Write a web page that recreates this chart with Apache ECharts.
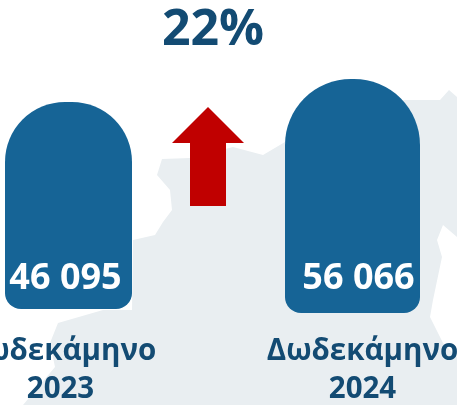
<!DOCTYPE html>
<html>
<head>
    <meta charset="utf-8">
    <title>Δωδεκάμηνο</title>
    <script src="https://cdn.jsdelivr.net/npm/echarts@6/dist/echarts.min.js"></script>
    <style>
        html, body {margin:0;padding:0;background:#fff;}
        #main {width:457px;height:405px;}
    </style>
</head>
<body>
<div id="main"></div>
<script>
    const categories = ['Δωδεκάμηνο\n2023', 'Δωδεκάμηνο\n2024']
    const values = [46095, 56066]
    const changeLabel = '22%'

    const blue = '#166496'
    const navy = '#134b73'
    const fontFamily = '"Open Sans", "Noto Sans", sans-serif'

    // faint map outline behind the bars
    const mapShape = [[162,159],[157,175],[170,190],[172,210],[163,222],[155,235],[133,240],[132,310],
        [103,310],[58,323],[50,343],[55,367],[23,405],[457,405],[457,357],[443,343],[430,317],[433,300],[442,257],[437,240],[443,225],[457,237],
        [457,97],[449,90],[440,100],[400,100],[350,110],[285,142],[263,155],[233,147],[190,158]]
    const arrowShape = [[208,107],[244,143],[226,143],[226,206],[190,206],[190,143],[172,143]]

    function formatValue(v) {
        return String(v).replace(/\B(?=(\d{3})+$)/g, ' ')
    }

    const chart = echarts.init(document.getElementById('main'))
    // each bar sits on its own small grid, the two have different widths and baselines
    const grids = [
        {left: 5, width: 127, top: 0, bottom: 96, outerBoundsMode: 'none'},
        {left: 285, width: 135, top: 0, bottom: 92, outerBoundsMode: 'none'}
    ]
    const yMax = [values[0] * 309 / 207, values[1] * 313 / 234]
    const barWidths = [127, 135]
    const radii = [[60, 60, 16, 16], [66, 66, 16, 16]]
    // labels are not centred on the bars in the original
    const labelPadding = [[0, 16, 0, 0], [0, 0, 0, 20]]
    const labelMargin = [24, 20]
    const valueOffset = [[-3, 1], [6, -3]]

    chart.setOption({
        animation: false,
        graphic: [
            {type: 'polygon', z: -1, shape: {points: mapShape}, style: {fill: '#e9eef1'}},
            {type: 'polygon', z: 1, shape: {points: arrowShape}, style: {fill: '#c00000'}},
            {type: 'text', x: 213, y: 31, style: {text: changeLabel, fill: navy, font: 'bold 50px ' + fontFamily, textAlign: 'center', textVerticalAlign: 'middle'}}
        ],
        grid: grids,
        xAxis: categories.map(function (name, i) {
            return {
                type: 'category', gridIndex: i, data: [name],
                axisLine: {show: false}, axisTick: {show: false},
                axisLabel: {color: navy, fontFamily: fontFamily, fontWeight: 'bold', fontSize: 29.5, lineHeight: 38, margin: labelMargin[i], padding: labelPadding[i], hideOverlap: false}
            }
        }),
        yAxis: categories.map(function (name, i) {
            return {type: 'value', gridIndex: i, min: 0, max: yMax[i], show: false}
        }),
        series: categories.map(function (name, i) {
            return {
                type: 'bar', xAxisIndex: i, yAxisIndex: i, data: [values[i]], barWidth: barWidths[i],
                itemStyle: {color: blue, borderRadius: radii[i]},
                label: {show: true, position: 'insideBottom', distance: 13, offset: valueOffset[i], color: '#fff', fontFamily: fontFamily, fontWeight: 'bold', fontSize: 36, formatter: function (p) {return formatValue(p.value)}}
            }
        })
    })
</script>
</body>
</html>
